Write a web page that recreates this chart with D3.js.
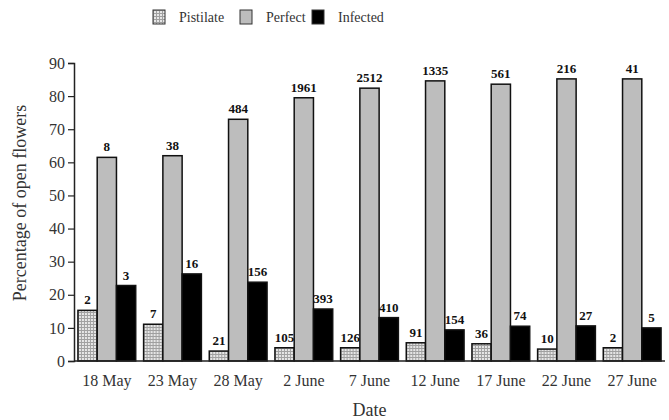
<!DOCTYPE html>
<html>
<head>
<meta charset="utf-8">
<script src="https://cdn.jsdelivr.net/npm/d3@7"></script>
<style>
  body { margin: 0; background: #fff; }
</style>
</head>
<body>
<div id="chart"></div>
<script>
// data
var dates = ["18 May", "23 May", "28 May", "2 June", "7 June", "12 June", "17 June", "22 June", "27 June"];
var seriesNames = ["Pistilate", "Perfect", "Infected"];
var pistilate = [15.3, 11.1, 3.0, 4.0, 4.0, 5.5, 5.2, 3.6, 4.0];
var perfect = [61.5, 62.0, 73.0, 79.5, 82.4, 84.6, 83.6, 85.2, 85.2];
var infected = [22.8, 26.3, 23.8, 15.7, 13.1, 9.4, 10.5, 10.6, 10.0];
var pistilateN = [2, 7, 21, 105, 126, 91, 36, 10, 2];
var perfectN = [8, 38, 484, 1961, 2512, 1335, 561, 216, 41];
var infectedN = [3, 16, 156, 393, 410, 154, 74, 27, 5];
var yTicks = [0, 10, 20, 30, 40, 50, 60, 70, 80, 90];

var width = 669, height = 420;
var marginLeft = 74, marginRight = 4, marginTop = 63, marginBottom = 59;
var serif = "Liberation Serif";

var svg = d3.select("#chart").append("svg")
    .attr("width", width).attr("height", height);

// dotted fill for pistilate bars
var defs = svg.append("defs");
var pat = defs.append("pattern")
    .attr("id", "dots")
    .attr("width", 3).attr("height", 3)
    .attr("patternUnits", "userSpaceOnUse");
pat.append("rect").attr("width", 3).attr("height", 3).attr("fill", "#e6e6e6");
pat.append("rect").attr("width", 1).attr("height", 3).attr("fill", "#a0a0a0");
pat.append("rect").attr("width", 3).attr("height", 1).attr("fill", "#a0a0a0");

var fills = ["url(#dots)", "#bdbdbd", "#000"];
var values = [pistilate, perfect, infected];
var counts = [pistilateN, perfectN, infectedN];

var x0 = d3.scaleBand()
    .domain(dates)
    .range([marginLeft, width - marginRight])
    .paddingInner(0.12)
    .paddingOuter(0.06);

var x1 = d3.scaleBand()
    .domain(seriesNames)
    .range([0, x0.bandwidth()]);

var y = d3.scaleLinear()
    .domain([0, 90])
    .range([height - marginBottom, marginTop]);

// y axis
var yAxis = d3.axisLeft(y).tickValues(yTicks).tickSize(6).tickPadding(3);
var gy = svg.append("g")
    .attr("transform", "translate(" + marginLeft + ",0)")
    .call(yAxis);
gy.select(".domain").attr("stroke", "#222").attr("stroke-width", 1.5);
gy.selectAll(".tick line").attr("stroke", "#222").attr("stroke-width", 1.2);
gy.selectAll(".tick text")
    .attr("font-family", serif)
    .attr("font-size", 16)
    .attr("fill", "#333");

// bars
var groups = svg.selectAll("g.group")
    .data(dates)
    .enter().append("g")
    .attr("class", "group")
    .attr("transform", function(d) { return "translate(" + x0(d) + ",0)"; });

seriesNames.forEach(function(s, si) {
    groups.append("rect")
        .attr("x", x1(s))
        .attr("width", x1.bandwidth())
        .attr("y", function(d, i) { return y(values[si][i]); })
        .attr("height", function(d, i) { return y(0) - y(values[si][i]); })
        .attr("fill", fills[si])
        .attr("stroke", "#111")
        .attr("stroke-width", 1.5);

    groups.append("text")
        .attr("x", x1(s) + x1.bandwidth() / 2)
        .attr("y", function(d, i) { return y(values[si][i]) - 6; })
        .attr("text-anchor", "middle")
        .attr("fill", "#111")
        .attr("font-family", serif)
        .attr("font-size", 13)
        .attr("font-weight", "bold")
        .text(function(d, i) { return counts[si][i]; });
});

// x axis
var xAxis = d3.axisBottom(x0).tickSize(0).tickPadding(14);
var gx = svg.append("g")
    .attr("transform", "translate(0," + y(0) + ")")
    .call(xAxis);
gx.select(".domain").attr("stroke", "#222").attr("stroke-width", 1.5)
    .attr("d", "M" + marginLeft + ",0H" + (width - marginRight));
gx.selectAll(".tick text")
    .attr("font-family", serif)
    .attr("font-size", 16)
    .attr("fill", "#333");

// axis titles
svg.append("text")
    .attr("x", (marginLeft + width - marginRight) / 2)
    .attr("y", 416)
    .attr("text-anchor", "middle")
    .attr("fill", "#333")
    .attr("font-family", serif)
    .attr("font-size", 18)
    .text("Date");

svg.append("text")
    .attr("transform", "translate(26,203) rotate(-90)")
    .attr("text-anchor", "middle")
    .attr("fill", "#333")
    .attr("font-family", serif)
    .attr("font-size", 18)
    .text("Percentage of open flowers");

// legend
var legendX = [153, 240, 312];
var legend = svg.selectAll("g.legend")
    .data(seriesNames)
    .enter().append("g")
    .attr("class", "legend")
    .attr("transform", function(d, i) { return "translate(" + legendX[i] + ",10)"; });
legend.append("rect")
    .attr("width", 12).attr("height", 14)
    .attr("fill", function(d, i) { return fills[i]; })
    .attr("stroke", "#333").attr("stroke-width", 1);
legend.append("text")
    .attr("x", 26).attr("y", 12)
    .attr("fill", "#333")
    .attr("font-family", serif)
    .attr("font-size", 14)
    .text(function(d) { return d; });
</script>
</body>
</html>
